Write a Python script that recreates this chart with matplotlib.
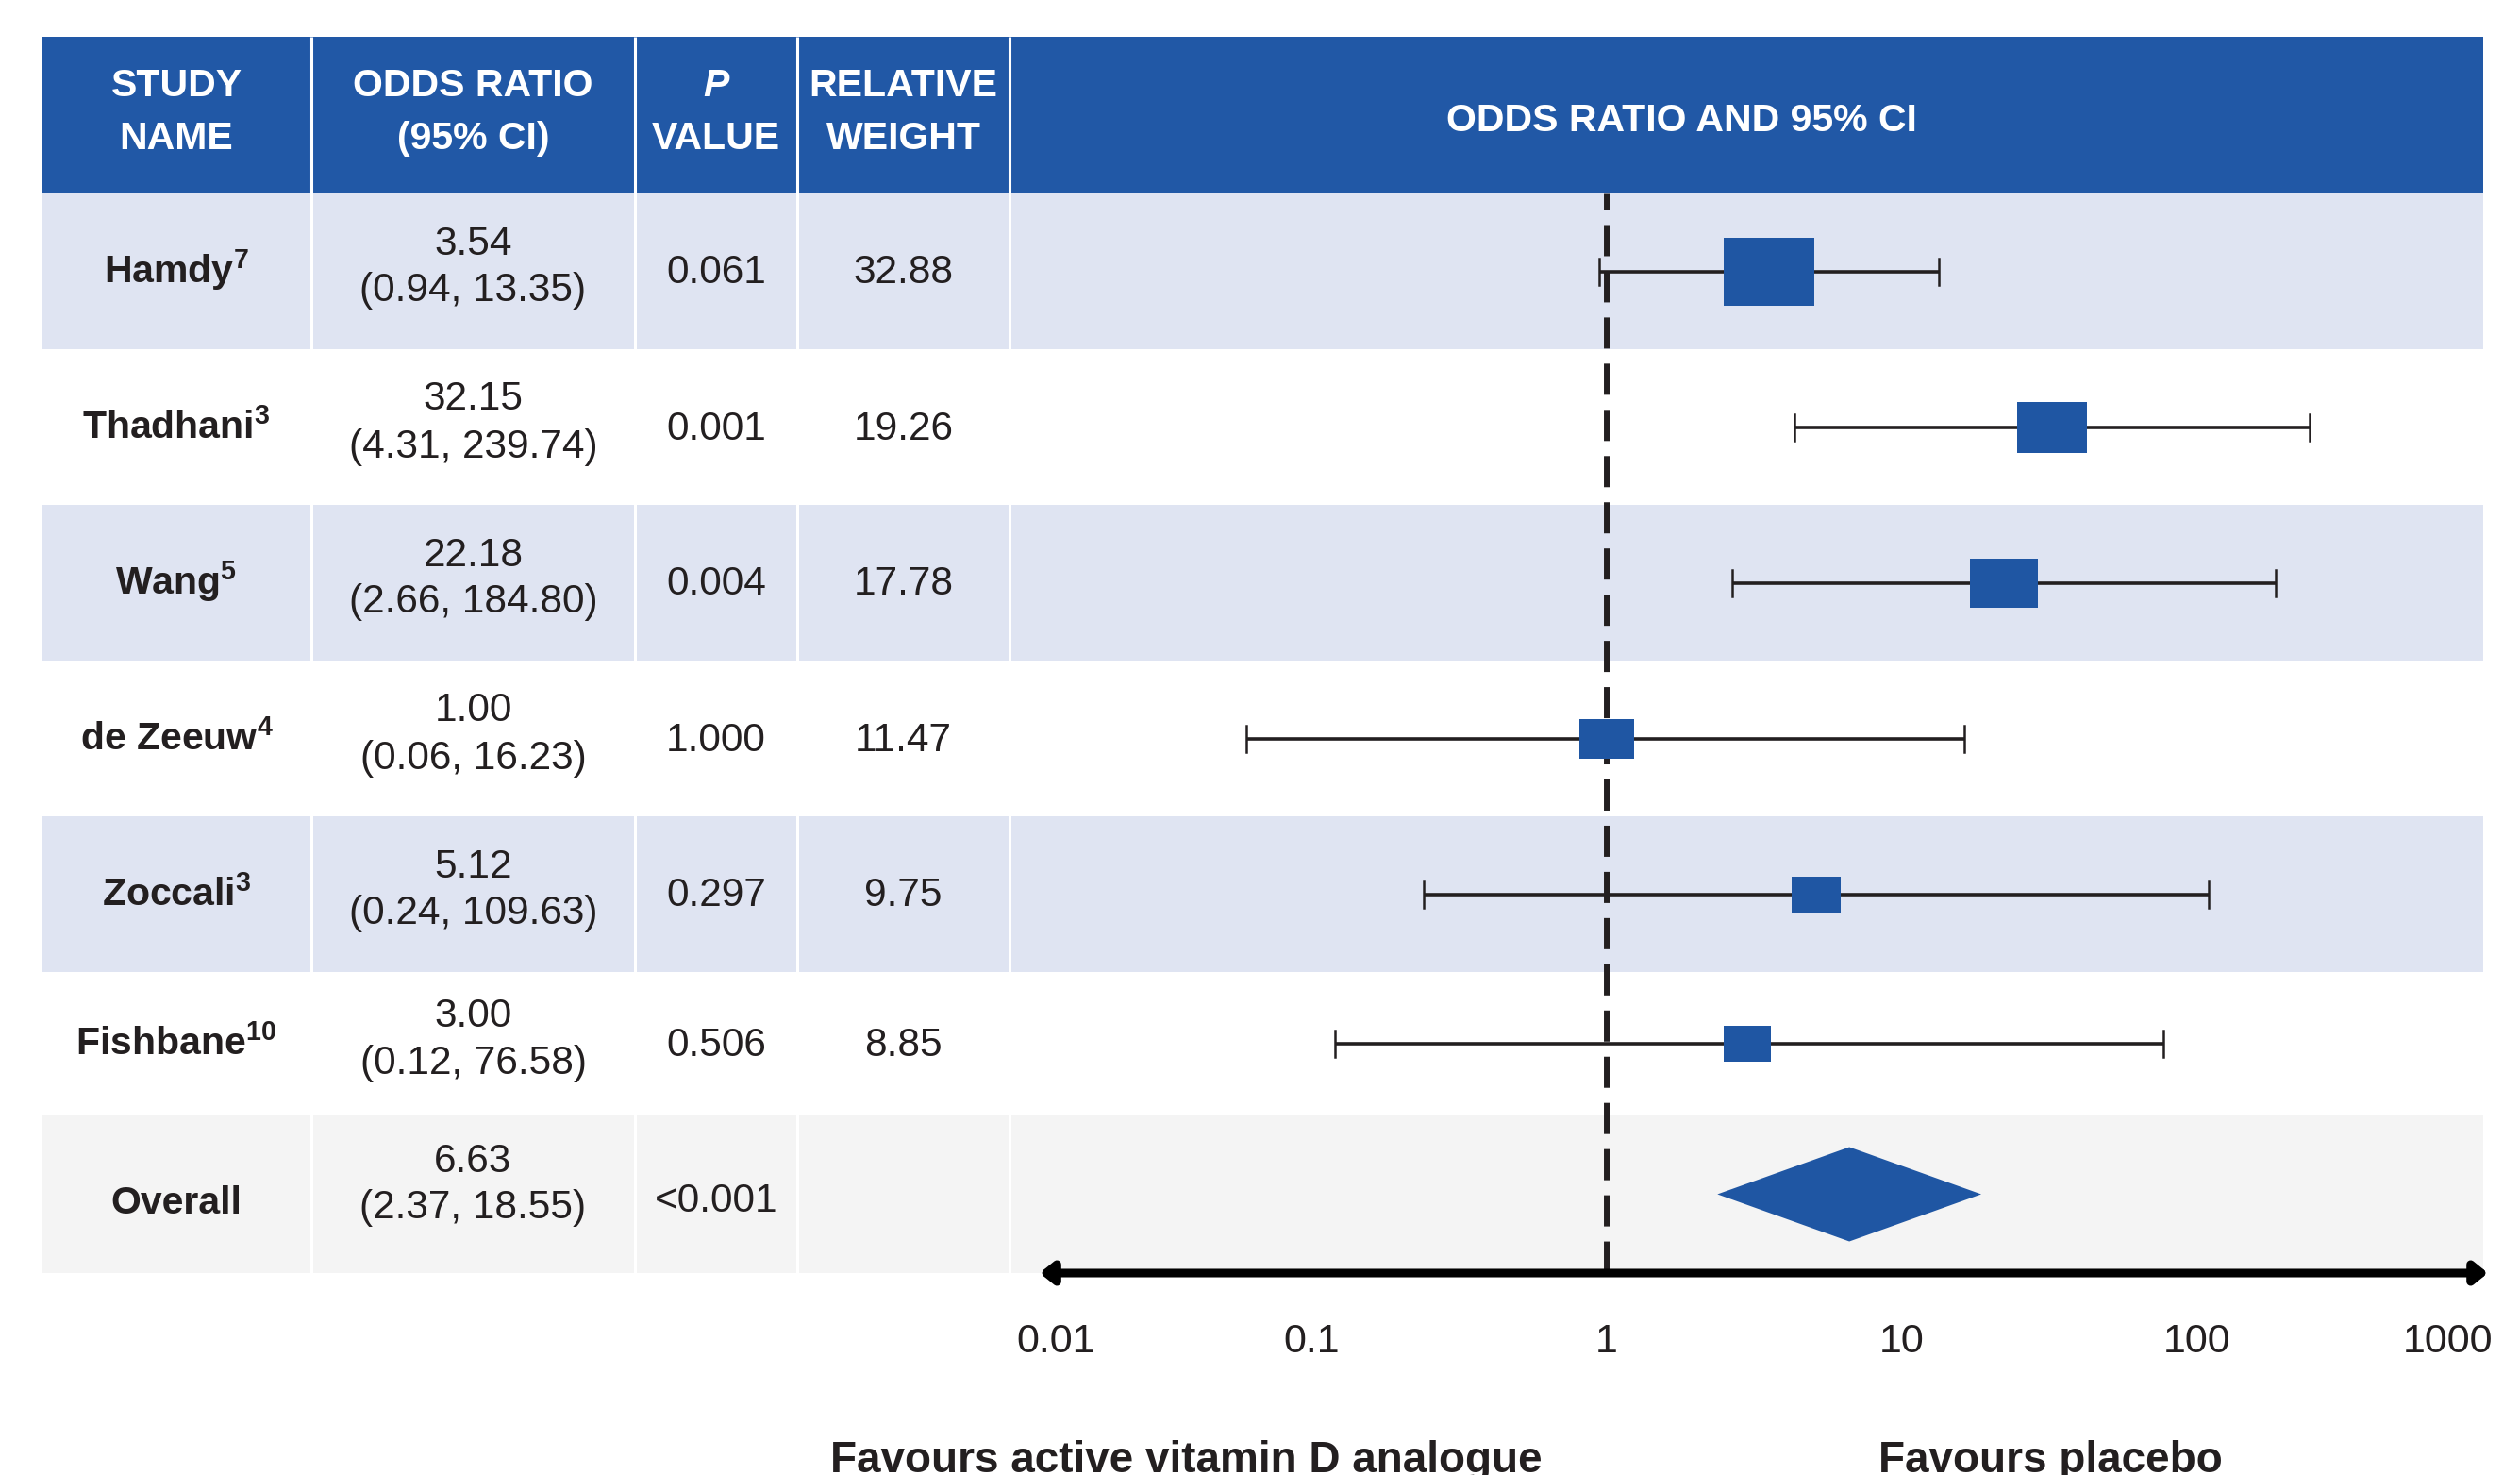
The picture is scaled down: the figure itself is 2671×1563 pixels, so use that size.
import numpy as np
import matplotlib
matplotlib.use("Agg")
import matplotlib.pyplot as plt
from matplotlib.patches import Rectangle, FancyArrowPatch
from matplotlib.ticker import NullLocator

plt.rcParams["font.family"] = ["Liberation Sans", "DejaVu Sans"]
plt.rcParams["mathtext.fontset"] = "custom"
plt.rcParams["mathtext.rm"] = "Liberation Sans"
plt.rcParams["mathtext.bf"] = "Liberation Sans:bold"

# ---- data -------------------------------------------------------------
STUDIES = ["Hamdy", "Thadhani", "Wang", "de Zeeuw", "Zoccali", "Fishbane"]
REFS = ["7", "3", "5", "4", "3", "10"]
ODDS = [3.54, 32.15, 22.18, 1.00, 5.12, 3.00]
CI_LO = [0.94, 4.31, 2.66, 0.06, 0.24, 0.12]
CI_HI = [13.35, 239.74, 184.80, 16.23, 109.63, 76.58]
P_VALUES = ["0.061", "0.001", "0.004", "1.000", "0.297", "0.506"]
WEIGHTS = [32.88, 19.26, 17.78, 11.47, 9.75, 8.85]
OVERALL_OR, OVERALL_LO, OVERALL_HI = 6.63, 2.37, 18.55
OVERALL_P = "<0.001"
X_TICKS = [0.01, 0.1, 1, 10, 100, 1000]
X_TICK_LABELS = ["0.01", "0.1", "1", "10", "100", "1000"]
HEADERS = [("STUDY", "NAME"), ("ODDS RATIO", "(95% CI)"), ("P", "VALUE"), ("RELATIVE", "WEIGHT")]
FOREST_HEADER = "ODDS RATIO AND 95% CI"
LEFT_LABEL = "Favours active vitamin D analogue"
RIGHT_LABEL = "Favours placebo"

# ---- layout (pixels) ----------------------------------------------------
W, H = 2671, 1563
COL_EDGES = [44, 330, 673, 845, 1070, 2632]
HEAD_TOP, HEAD_BOT = 39, 205
ROW_H = 165
OVR_TOP, OVR_BOT = 1182, 1349
FOREST_L, FOREST_R = 1077, 2642   # pixel x of 0.01 and 1000

BLUE = "#2158A6"
MARK = "#1F56A3"
LIGHT = "#DFE4F2"
GREY = "#F4F4F4"
DARK = "#231F20"

FS_HEAD = 29.5
FS_BODY = 30.5
FS_NAME = 29.5
FS_TICK = 31
FS_FOOT = 33

fig = plt.figure(figsize=(W / 100, H / 100), dpi=100)
tab = fig.add_axes([0, 0, 1, 1])
tab.set_xlim(0, W)
tab.set_ylim(H, 0)
tab.axis("off")

centers_x = [(a + b) / 2 for a, b in zip(COL_EDGES[:-1], COL_EDGES[1:])]

# header band
tab.add_patch(Rectangle((COL_EDGES[0], HEAD_TOP), COL_EDGES[-1] - COL_EDGES[0],
                        HEAD_BOT - HEAD_TOP, color=BLUE, lw=0))

# row shading
row_centers = []
for i in range(len(STUDIES)):
    top = HEAD_BOT + i * ROW_H
    bot = min(top + ROW_H, OVR_TOP)
    row_centers.append((top + bot) / 2)
    if i % 2 == 0:
        tab.add_patch(Rectangle((COL_EDGES[0], top), COL_EDGES[-1] - COL_EDGES[0],
                                bot - top, color=LIGHT, lw=0))
tab.add_patch(Rectangle((COL_EDGES[0], OVR_TOP), COL_EDGES[-1] - COL_EDGES[0],
                        OVR_BOT - OVR_TOP, color=GREY, lw=0))
ovr_center = (OVR_TOP + OVR_BOT) / 2

# white column separators
for x in COL_EDGES[1:-1]:
    tab.plot([x, x], [HEAD_TOP, OVR_BOT], color="white", lw=2.2, solid_capstyle="butt")

# header text
for cx, (l1, l2) in zip(centers_x, HEADERS):
    style = "italic" if l1 == "P" else "normal"
    tab.text(cx, 102, l1, ha="center", va="baseline", color="white",
             fontsize=FS_HEAD, fontweight="bold", fontstyle=style)
    tab.text(cx, 158, l2, ha="center", va="baseline", color="white",
             fontsize=FS_HEAD, fontweight="bold")
tab.text(1782, 139, FOREST_HEADER, ha="center", va="baseline", color="white",
         fontsize=FS_HEAD, fontweight="bold")

# table body
for i, name in enumerate(STUDIES):
    yc = row_centers[i]
    label = name + r"$^{\mathbf{" + REFS[i] + "}}$"
    tab.text(centers_x[0], yc + 12, label, ha="center", va="baseline",
             fontsize=FS_NAME, fontweight="bold", color=DARK)
    tab.text(centers_x[1], yc - 18, f"{ODDS[i]:.2f}", ha="center", va="baseline",
             fontsize=FS_BODY, color=DARK)
    tab.text(centers_x[1], yc + 32, f"({CI_LO[i]:.2f}, {CI_HI[i]:.2f})", ha="center",
             va="baseline", fontsize=FS_BODY, color=DARK)
    tab.text(centers_x[2], yc + 13, P_VALUES[i], ha="center", va="baseline",
             fontsize=FS_BODY, color=DARK)
    tab.text(centers_x[3], yc + 13, f"{WEIGHTS[i]:.2f}", ha="center", va="baseline",
             fontsize=FS_BODY, color=DARK)

tab.text(centers_x[0], ovr_center + 21, "Overall", ha="center", va="baseline",
         fontsize=FS_NAME, fontweight="bold", color=DARK)
tab.text(centers_x[1], ovr_center - 23, f"{OVERALL_OR:.2f}", ha="center", va="baseline",
         fontsize=FS_BODY, color=DARK)
tab.text(centers_x[1], ovr_center + 25, f"({OVERALL_LO:.2f}, {OVERALL_HI:.2f})",
         ha="center", va="baseline", fontsize=FS_BODY, color=DARK)
tab.text(centers_x[2], ovr_center + 19, OVERALL_P, ha="center", va="baseline",
         fontsize=FS_BODY, color=DARK)

# footer labels (sit on the bottom edge, as in the source)
tab.text(1257, 1560, LEFT_LABEL, ha="center", va="baseline", fontsize=FS_FOOT,
         fontweight="bold", color=DARK)
tab.text(2173, 1560, RIGHT_LABEL, ha="center", va="baseline", fontsize=FS_FOOT,
         fontweight="bold", color=DARK)

# ---- forest plot ------------------------------------------------------------
fx = fig.add_axes([FOREST_L / W, 1 - OVR_BOT / H, (FOREST_R - FOREST_L) / W,
                   (OVR_BOT - HEAD_BOT) / H])
fx.patch.set_visible(False)
fx.set_xscale("log")
fx.set_xlim(X_TICKS[0], X_TICKS[-1])
fx.set_ylim(OVR_BOT, HEAD_BOT)
for s in fx.spines.values():
    s.set_visible(False)
fx.set_yticks([])
fx.set_xticks(X_TICKS)
fx.set_xticklabels(X_TICK_LABELS)
fx.xaxis.set_minor_locator(NullLocator())
fx.tick_params(axis="x", length=0, pad=38, labelsize=FS_TICK, labelcolor=DARK)
ticklabels = fx.get_xticklabels()
ticklabels[0].set_horizontalalignment("left")
ticklabels[-1].set_horizontalalignment("right")

# reference line at OR = 1
fx.plot([1, 1], [HEAD_BOT, OVR_BOT], color=DARK, lw=5,
        linestyle=(2.3, (4.75, 2.3)), zorder=2)

rect = [(-1.35, -1), (1.35, -1), (1.35, 1), (-1.35, 1), (-1.35, -1)]
for i in range(len(STUDIES)):
    yc = row_centers[i]
    fx.plot([CI_LO[i], CI_HI[i]], [yc, yc], color=DARK, lw=2.6, zorder=3,
            solid_capstyle="butt")
    for xe in (CI_LO[i], CI_HI[i]):
        fx.plot([xe, xe], [yc - 14, yc + 14], color=DARK, lw=1.8, zorder=3)
    fx.plot([ODDS[i]], [yc], marker=rect, markersize=12.13 * np.sqrt(WEIGHTS[i]),
            color=MARK, markeredgewidth=0, zorder=4)

fx.fill([OVERALL_LO, OVERALL_OR, OVERALL_HI, OVERALL_OR],
        [ovr_center, ovr_center - 50, ovr_center, ovr_center + 50],
        color=MARK, lw=0, zorder=4)

# axis arrow
arrow = FancyArrowPatch((0.016, 0), (0.9968, 0), transform=fx.transAxes,
                        arrowstyle="<|-|>,head_length=0.8,head_width=0.65",
                        mutation_scale=10, lw=6.5, color="black",
                        shrinkA=0, shrinkB=0, clip_on=False, zorder=5)
fx.add_patch(arrow)

fig.savefig("out.png", dpi=100)
